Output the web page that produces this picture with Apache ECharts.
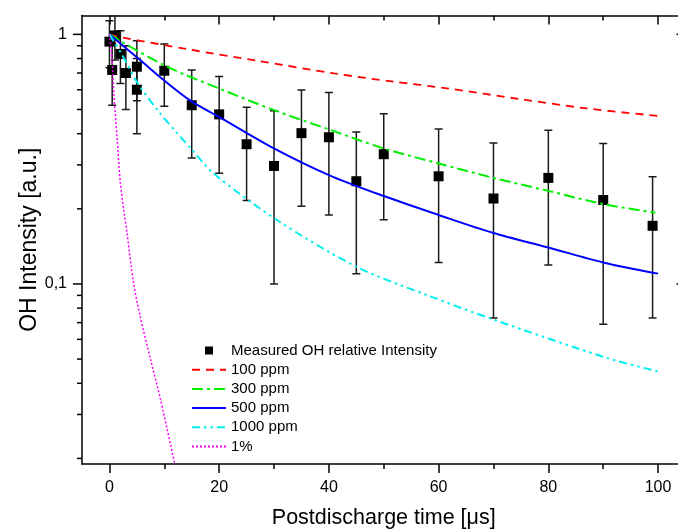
<!DOCTYPE html>
<html>
<head>
<meta charset="utf-8">
<script src="https://cdn.jsdelivr.net/npm/echarts@6/dist/echarts.min.js"></script>
<style>
html,body{margin:0;padding:0;background:#fff;}
#chart{width:678px;height:530px;}
</style>
</head>
<body>
<div id="chart"></div>
<script>
// ---- axis ranges & ticks ----
const X_MIN = -5, X_MAX = 105;
const Y_MIN = 0.019, Y_MAX = 1.19;
const xMajorTicks = [0, 20, 40, 60, 80, 100];
const xMinorTicks = [10, 30, 50, 70, 90];
const xTopTicksMinor = [10, 30, 50, 70, 90];
const yMajorTicks = [0.1, 1];
const yMinorTicks = [0.02, 0.03, 0.04, 0.05, 0.06, 0.07, 0.08, 0.09, 0.2, 0.3, 0.4, 0.5, 0.6, 0.7, 0.8, 0.9];

// ---- measured data ----
const measTime = [0, 0.5, 1, 2, 3, 5, 5, 10, 15, 20, 25, 30, 35, 40, 45, 50, 60, 70, 80, 90, 99];
const measInt  = [0.935, 0.72, 0.99, 0.835, 0.70, 0.742, 0.60, 0.715, 0.52, 0.478, 0.363, 0.297, 0.402, 0.387, 0.258, 0.331, 0.27, 0.22, 0.266, 0.217, 0.171];
const measErr  = [0.2, 0.2, 0.2, 0.2, 0.2, 0.2, 0.2, 0.2, 0.2, 0.2, 0.147, 0.197, 0.197, 0.198, 0.148, 0.15, 0.148, 0.147, 0.147, 0.148, 0.098];

// ---- model curves ----
const t100  = [0, 2.3, 14.4, 26.9, 40.9, 51.8, 61.5, 74.9, 87, 100];
const v100  = [1.0, 0.972, 0.871, 0.784, 0.698, 0.646, 0.608, 0.55, 0.505, 0.471];
const t300  = [0, 0.8, 2.0, 10.5, 19.9, 29.9, 40.3, 50, 60, 70, 80, 90, 99.5];
const v300  = [1.0, 0.98, 0.94, 0.742, 0.608, 0.498, 0.414, 0.349, 0.304, 0.266, 0.236, 0.209, 0.193];
const t500  = [0, 5.6, 9.9, 14.9, 19.9, 29.9, 40, 50, 60, 70, 80, 90, 100];
const v500  = [1.0, 0.789, 0.656, 0.54, 0.468, 0.35, 0.273, 0.225, 0.189, 0.16, 0.14, 0.122, 0.11];
const t1000 = [0, 2, 5.3, 9, 12, 14.8, 19, 30.6, 45.1, 58, 70, 90.6, 100];
const v1000 = [1.0, 0.85, 0.63, 0.49, 0.41, 0.35, 0.277, 0.18, 0.117, 0.09, 0.072, 0.0506, 0.0446];
const t1pc  = [0, 0.5, 0.8, 1.4, 2.0, 3.2, 4.4, 5.6, 7.5, 9.3, 11.9];
const v1pc  = [1.0, 0.78, 0.58, 0.385, 0.253, 0.16, 0.101, 0.0742, 0.0498, 0.0345, 0.0191];

const seriesNames = ['Measured OH relative Intensity', '100 ppm', '300 ppm', '500 ppm', '1000 ppm', '1%'];

const FONT = "'Liberation Sans', Arial, sans-serif";
const zip = (a, b) => a.map((v, i) => [v, b[i]]);

const chart = echarts.init(document.getElementById('chart'), null, {renderer: 'canvas'});

function tickRenderer(len, both) {
  return function (params, api) {
    const v = api.value(1);
    const pl = api.coord([X_MIN, v]);
    const pr = api.coord([X_MAX, v]);
    const st = {stroke: '#000', lineWidth: 1.5};
    const ch = [{type: 'line', shape: {x1: pl[0] - len, y1: pl[1], x2: pl[0], y2: pl[1]}, style: st}];
    if (both) ch.push({type: 'line', shape: {x1: pr[0], y1: pr[1], x2: pr[0] - len, y2: pr[1]}, style: st});
    return {type: 'group', children: ch};
  };
}

const lineBase = {type: 'line', showSymbol: false, symbol: 'none', smooth: 0.3, xAxisIndex: 0, yAxisIndex: 0, z: 4, silent: true};

const legendData = seriesNames.map((n, i) => i === 0
  ? {name: n, icon: 'path://M0 0H10V10H0Z', itemStyle: {color: '#000', opacity: 1}}
  : {name: n, itemStyle: {opacity: 0}});

const option = {
  animation: false,
  backgroundColor: '#fff',
  grid: {left: 82, top: 15.5, right: -7.5, bottom: 66, containLabel: false, outerBoundsMode: 'none'},
  legend: {
    orient: 'vertical', left: 186, top: 338, itemWidth: 34, itemHeight: 8, itemGap: 4.2,
    symbolKeepAspect: true,
    textStyle: {fontFamily: FONT, fontSize: 15, color: '#000', lineHeight: 15},
    data: legendData, selectedMode: false
  },
  xAxis: [
    {
      type: 'value', position: 'bottom', min: X_MIN, max: X_MAX,
      axisLine: {show: true, onZero: false, lineStyle: {color: '#000', width: 1.5}},
      axisTick: {show: true, inside: false, length: 9, customValues: xMajorTicks, lineStyle: {color: '#000', width: 1.5}},
      axisLabel: {show: true, customValues: xMajorTicks, margin: 16, fontSize: 16, fontFamily: FONT, color: '#000'},
      splitLine: {show: false},
      name: 'Postdischarge time [\u03bcs]', nameLocation: 'middle', nameGap: 43, nameMoveOverlap: false,
      nameTextStyle: {fontSize: 21.5, fontFamily: FONT, color: '#000'}
    },
    {
      type: 'value', position: 'bottom', min: X_MIN, max: X_MAX,
      axisLine: {show: false, onZero: false},
      axisTick: {show: true, inside: false, length: 5, customValues: xMinorTicks, lineStyle: {color: '#000', width: 1.5}},
      axisLabel: {show: false}, splitLine: {show: false}
    },
    {
      type: 'value', position: 'top', min: X_MIN, max: X_MAX,
      axisLine: {show: true, onZero: false, lineStyle: {color: '#000', width: 1.5}},
      axisTick: {show: true, inside: true, length: 9, customValues: xMajorTicks, lineStyle: {color: '#000', width: 1.5}},
      axisLabel: {show: false}, splitLine: {show: false}
    },
    {
      type: 'value', position: 'top', min: X_MIN, max: X_MAX,
      axisLine: {show: false, onZero: false},
      axisTick: {show: true, inside: true, length: 5, customValues: xTopTicksMinor, lineStyle: {color: '#000', width: 1.5}},
      axisLabel: {show: false}, splitLine: {show: false}
    }
  ],
  yAxis: [
    {
      type: 'log', logBase: 10, position: 'left', min: Y_MIN, max: Y_MAX,
      axisLine: {show: true, onZero: false, lineStyle: {color: '#000', width: 1.5}},
      axisTick: {show: false},
      axisLabel: {
        show: true, margin: 15, fontSize: 16, fontFamily: FONT, color: '#000',
        showMinLabel: false, showMaxLabel: false,
        formatter: function (v) {
          const l = Math.log10(v);
          if (Math.abs(l - Math.round(l)) > 1e-6) return '';
          return String(Math.pow(10, Math.round(l))).replace('.', ',');
        }
      },
      splitLine: {show: false}, minorTick: {show: false},
      name: 'OH Intensity [a.u.]', nameLocation: 'middle', nameGap: 41, nameMoveOverlap: false,
      nameTextStyle: {fontSize: 23, fontFamily: FONT, color: '#000'}
    },
    {
      type: 'log', logBase: 10, position: 'right', min: Y_MIN, max: Y_MAX,
      axisLine: {show: true, onZero: false, lineStyle: {color: '#000', width: 1.5}},
      axisTick: {show: false}, axisLabel: {show: false}, splitLine: {show: false}
    }
  ],
  series: [
    {
      type: 'custom', name: 'errorbars', xAxisIndex: 0, yAxisIndex: 0, z: 2, clip: true, silent: true,
      encode: {x: 0, y: [1, 2]},
      data: measTime.map((t, i) => [t, measInt[i] - measErr[i], measInt[i] + measErr[i]]),
      renderItem: function (params, api) {
        const x = api.value(0);
        const lo = api.coord([x, api.value(1)]);
        const hi = api.coord([x, api.value(2)]);
        const w = 4;
        const st = {stroke: '#1a1a1a', lineWidth: 1.5};
        return {type: 'group', children: [
          {type: 'line', shape: {x1: lo[0], y1: lo[1], x2: hi[0], y2: hi[1]}, style: st},
          {type: 'line', shape: {x1: lo[0] - w, y1: lo[1], x2: lo[0] + w, y2: lo[1]}, style: st},
          {type: 'line', shape: {x1: hi[0] - w, y1: hi[1], x2: hi[0] + w, y2: hi[1]}, style: st}
        ]};
      }
    },
    {
      type: 'scatter', name: seriesNames[0], xAxisIndex: 0, yAxisIndex: 0, z: 3, silent: true,
      symbol: 'rect', symbolSize: 10, itemStyle: {color: '#000', opacity: 1},
      data: zip(measTime, measInt)
    },
    Object.assign({}, lineBase, {name: seriesNames[1], data: zip(t100, v100), itemStyle: {color: '#ff0000'},
      lineStyle: {color: '#ff0000', width: 1.8, type: [8, 6]}}),
    Object.assign({}, lineBase, {name: seriesNames[2], data: zip(t300, v300), itemStyle: {color: '#00e000'},
      lineStyle: {color: '#00ee00', width: 2, type: [11, 4, 3, 4]}}),
    Object.assign({}, lineBase, {name: seriesNames[3], data: zip(t500, v500), itemStyle: {color: '#0000ff'},
      lineStyle: {color: '#0000ff', width: 2, type: 'solid'}}),
    Object.assign({}, lineBase, {name: seriesNames[4], data: zip(t1000, v1000), itemStyle: {color: '#00eeee'},
      lineStyle: {color: '#00eeee', width: 2, type: [8, 4, 2.5, 4, 2.5, 4]}}),
    Object.assign({}, lineBase, {name: seriesNames[5], data: zip(t1pc, v1pc), itemStyle: {color: '#ff00ff'},
      lineStyle: {color: '#ff00ff', width: 1.5, type: [2, 2]}}),
    {
      type: 'custom', name: 'yMajorTicks', xAxisIndex: 0, yAxisIndex: 0, z: 6, clip: false, silent: true,
      encode: {x: 0, y: 1},
      data: yMajorTicks.map(v => [X_MIN, v]),
      renderItem: tickRenderer(9, true)
    },
    {
      type: 'custom', name: 'yMinorTicks', xAxisIndex: 0, yAxisIndex: 0, z: 6, clip: false, silent: true,
      encode: {x: 0, y: 1},
      data: yMinorTicks.map(v => [X_MIN, v]),
      renderItem: tickRenderer(5, true)
    }
  ]
};
chart.setOption(option);
</script>
</body>
</html>
